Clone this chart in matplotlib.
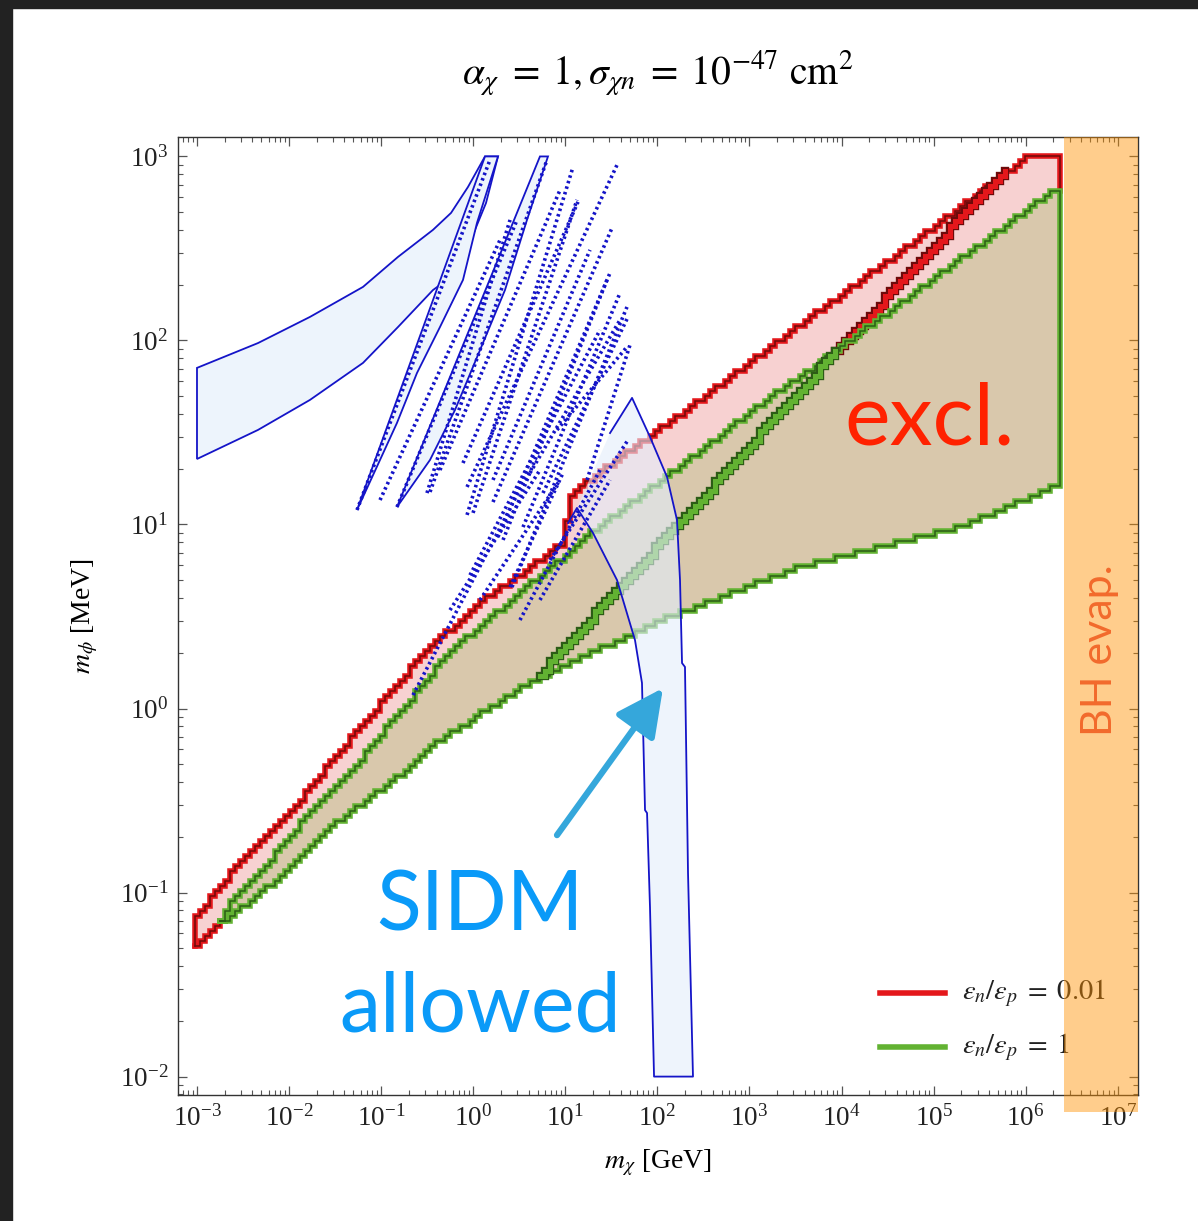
import numpy as np
import matplotlib.pyplot as plt
from matplotlib.patches import Polygon, Rectangle
from matplotlib.ticker import FixedLocator, NullFormatter
from matplotlib.patheffects import AbstractPathEffect
from matplotlib.path import Path
from matplotlib.transforms import IdentityTransform

plt.rcParams['font.family'] = ['Liberation Serif', 'DejaVu Serif']
plt.rcParams['mathtext.fontset'] = 'stix'

# all values are log10(m_chi / GeV), log10(m_phi / MeV)

# excluded region, eps_n/eps_p = 0.01 (outer boundary, upper side)
red_x = [-3.0, -3.0, -2.739, -2.337, -1.979, -1.545, -1.230, -0.893, -0.513, -0.252,
         0.106, 0.476, 0.834, 1.019, 1.030, 2.756, 6.047, 6.373, 6.373]
red_y = [-1.285, -1.133, -0.959, -0.731, -0.568, -0.291, -0.106, 0.090, 0.302, 0.427,
         0.590, 0.715, 0.845, 0.916, 1.149, 1.785, 3.0, 3.0, 2.807]
# lower-left closing piece of the red boundary
red_low_x = [-3.0, -2.739]
red_low_y = [-1.285, -1.160]

# excluded region, eps_n/eps_p = 1
green_up_x = [-2.739, -2.663, -2.261, -1.762, -1.175, -0.676, -0.252, 1.236, 2.105, 3.006,
              3.929, 6.319, 6.373]
green_up_y = [-1.160, -1.079, -0.861, -0.568, -0.253, 0.046, 0.307, 0.932, 1.258, 1.606,
              1.938, 2.818, 2.807]
green_low_x = [6.373, 5.320, 3.549, 2.148, 0.736, 0.052, -0.382, -0.849, -1.469, -2.120, -2.696]
green_low_y = [1.215, 0.986, 0.769, 0.497, 0.171, -0.046, -0.188, -0.389, -0.622, -0.932, -1.160]

# thin unexcluded cracks inside the regions
crack_green_x = [0.736, 3.951]
crack_green_y = [0.182, 1.938]
crack_red_x = [3.951, 5.776]
crack_red_y = [1.938, 2.916]

# SIDM allowed: big band at low mass
band_up_x = [-3.0, -2.337, -1.773, -1.197, -0.817, -0.437, -0.241, -0.057, 0.128]
band_up_y = [1.851, 1.986, 2.128, 2.291, 2.454, 2.601, 2.693, 2.834, 3.0]
band_low_x = [-3.0, -2.337, -1.773, -1.197, -0.817, -0.437, -0.241, -0.057, 0.139, 0.269]
band_low_y = [1.356, 1.514, 1.677, 1.878, 2.073, 2.274, 2.345, 2.508, 2.747, 3.0]

# thin lens-shaped islands
lensA_x = [-1.262, 0.128, 0.269, 0.041, -0.111, -0.361, -0.611, -0.828, -1.012]
lensA_y = [1.079, 3.0, 3.0, 2.639, 2.329, 2.073, 1.823, 1.552, 1.351]
lensB_x = [-0.828, 0.725, 0.812, 0.584, 0.345, 0.074, -0.198, -0.469]
lensB_y = [1.095, 3.0, 3.0, 2.655, 2.274, 1.948, 1.622, 1.351]

# main allowed channel reaching down to 10 keV
chan_left_x = [1.030, 1.127, 1.301, 1.562, 1.757, 1.833, 1.866, 1.888, 1.920, 1.964]
chan_left_y = [1.008, 1.090, 0.954, 0.698, 0.372, 0.139, -0.552, -0.568, -1.079, -2.0]
chan_right_x = [2.387, 2.333, 2.300, 2.268, 2.246, 2.213, 2.105, 1.920, 1.725, 1.486]
chan_right_y = [-2.0, -0.894, 0.226, 0.247, 0.698, 1.025, 1.258, 1.476, 1.688, 1.497]

# resonance lines (start x, start y, end x, end y)
res_x0 = [-1.262, -0.828, -0.469, -0.067, -0.111, -0.067, 0.215, 0.269, 0.421, 0.541, 0.758,
          -0.654, -0.035, 0.074, 0.834, 1.236, -0.502, -0.002, 0.215, 0.324, 0.617, 0.910,
          0.400, -0.252, 0.508, 0.725, -1.012, -0.361]
res_y0 = [1.079, 1.095, 1.177, 1.052, 1.334, 1.204, 1.122, 0.932, 0.660, 0.986, 1.171,
          0.073, 0.725, 0.590, 0.807, 1.242, 1.171, 1.063, 1.242, 0.916, 1.280, 1.514,
          0.660, 0.535, 0.481, 0.590, 1.133, 1.296]
res_x1 = [0.182, 0.476, 0.801, 1.084, 1.138, 1.562, 1.507, 1.486, 1.670, 1.594, 1.681,
          0.617, 1.377, 0.943, 1.681, 1.703, 0.400, 1.127, 1.268, 1.453, 1.594, 1.670,
          0.975, 0.725, 1.377, 1.486, 0.291, 0.943]
res_y1 = [2.981, 2.655, 2.981, 2.943, 2.753, 2.954, 2.611, 2.367, 2.182, 2.258, 2.128,
          1.296, 2.057, 1.242, 1.459, 1.976, 2.655, 2.764, 2.492, 2.329, 2.111, 1.965,
          1.280, 1.296, 1.296, 1.242, 2.546, 2.818]

bh_evap_min = 6.417  # log10 GeV

x_decades = list(range(-3, 8))
y_decades = list(range(-2, 4))

legend_labels = [r'$\varepsilon_n/\varepsilon_p\;=\;0.01$', r'$\varepsilon_n/\varepsilon_p\;=\;1$']

RED, RED_D = '#E4171B', '#6E0A0A'
GREEN, GREEN_D = '#62B232', '#2C5C16'
BLUE = '#1414C8'
PINK = '#F7D1D1'
TAN = '#D9C8AC'
LBLUE = '#EDF4FC'


class Stairs(AbstractPathEffect):
    """Draw a path snapped to a pixel grid, like a contour from a sampled grid."""

    def __init__(self, step=5.0):
        super().__init__()
        self.step = step

    def draw_path(self, renderer, gc, tpath, affine, rgbFace=None):
        v = affine.transform(tpath.vertices)
        s = self.step
        pts = []
        for a, b in zip(v[:-1], v[1:]):
            n = max(int(np.hypot(*(b - a)) / (s / 3)), 1)
            for t in np.arange(n) / n:
                pts.append(a + (b - a) * t)
        pts.append(v[-1])
        g = np.round(np.array(pts) / s) * s
        out = [g[0]]
        for q in g[1:]:
            last = out[-1]
            if q[0] != last[0] and q[1] != last[1]:
                out.append(np.array([q[0], last[1]]))
            if q[0] != last[0] or q[1] != last[1]:
                out.append(q)
        renderer.draw_path(gc, Path(np.array(out)), IdentityTransform(), rgbFace)


def p(a):
    return 10 ** np.asarray(a, dtype=float)


fig = plt.figure(figsize=(11.98, 12.21), dpi=100)
ax = fig.add_axes([0.1486, 0.1032, 0.8013, 0.7842])
ax.set_xscale('log')
ax.set_yscale('log')
ax.set_xlim(10 ** -3.206, 10 ** 7.22)
ax.set_ylim(10 ** -2.1, 10 ** 3.103)

# fills
red_poly = np.column_stack([p(red_x + green_up_x[::-1] + red_low_x[::-1]),
                            p(red_y + green_up_y[::-1] + red_low_y[::-1])])
ax.add_patch(Polygon(red_poly, closed=True, fc=PINK, ec='none', zorder=1))
green_poly = np.column_stack([p(green_up_x + green_low_x), p(green_up_y + green_low_y)])
ax.add_patch(Polygon(green_poly, closed=True, fc=TAN, ec='none', zorder=2))


def edge(xs, ys, c, cd, z, crack=False):
    if crack:
        widths = [(cd, 6.0), (c, 3.6)]
    else:
        widths = [(c, 4.0), (cd, 1.1)]
    for k, (col, lw) in enumerate(widths):
        ax.plot(p(xs), p(ys), color=col, lw=lw, solid_joinstyle='miter',
                path_effects=[Stairs(5.0)], zorder=z + 0.1 * k)


edge(red_x, red_y, RED, RED_D, 3)
edge(red_low_x, red_low_y, RED, RED_D, 3)
edge(crack_red_x, crack_red_y, RED, RED_D, 3, crack=True)
edge(green_up_x + green_low_x + [green_up_x[0]], green_up_y + green_low_y + [green_up_y[0]],
     GREEN, GREEN_D, 3.5)
edge(crack_green_x, crack_green_y, GREEN, GREEN_D, 3.5, crack=True)

# SIDM allowed regions
band = np.column_stack([p(band_up_x + band_low_x[::-1]), p(band_up_y + band_low_y[::-1])])
ax.add_patch(Polygon(band, closed=True, fc=LBLUE, ec=BLUE, lw=1.3, zorder=4))
for lx, ly in [(lensA_x, lensA_y), (lensB_x, lensB_y)]:
    ax.add_patch(Polygon(np.column_stack([p(lx), p(ly)]), closed=True, fc=LBLUE,
                         ec=BLUE, lw=1.3, zorder=4))
chan = np.column_stack([p(chan_left_x[1:] + chan_right_x), p(chan_left_y[1:] + chan_right_y)])
ax.add_patch(Polygon(chan, closed=True, fc='#E3EEFB', alpha=0.6, ec='none', zorder=4))
ax.plot(p(chan_left_x + chan_right_x), p(chan_left_y + chan_right_y), color=BLUE, lw=1.3,
        zorder=5)

for x0, y0, x1, y1 in zip(res_x0, res_y0, res_x1, res_y1):
    ax.plot(p([x0, x1]), p([y0, y1]), color=BLUE, lw=2.6, ls=(0, (0.7, 0.9)), zorder=5)

# annotations
ax.text(0.783, 0.679, 'excl.', transform=ax.transAxes, ha='center', va='baseline',
        fontsize=62, family='Lato', color='#FF2200', zorder=6)
ax.text(0.315, 0.172, 'SIDM', transform=ax.transAxes, ha='center', va='baseline',
        fontsize=59.5, family='Lato', color='#0A9AF8', zorder=6)
ax.text(0.315, 0.066, 'allowed', transform=ax.transAxes, ha='center', va='baseline',
        fontsize=59.5, family='Lato', color='#0A9AF8', zorder=6)
ax.annotate('', xy=(10 ** 2.061, 10 ** 0.111), xytext=(10 ** 0.910, 10 ** -0.688),
            arrowprops=dict(arrowstyle='-|>,head_length=1.2,head_width=0.6', color='#35A7DB',
                            lw=4.5, shrinkA=0, shrinkB=0, mutation_scale=24), zorder=6)

# legend
for i, (lab, c) in enumerate(zip(legend_labels, [RED, GREEN])):
    yy = 0.1065 - i * 0.0565
    ax.plot([0.731, 0.799], [yy, yy], transform=ax.transAxes, color=c, lw=4, zorder=6)
    ax.text(0.8167, yy, lab, transform=ax.transAxes, va='center', ha='left',
            fontsize=20.5, color='#222222', zorder=6)

# black-hole evaporation band
ax.add_patch(Rectangle((10 ** bh_evap_min, 10 ** -2.19), 10 ** 7.225 - 10 ** bh_evap_min,
                       10 ** 3.103 - 10 ** -2.19, fc=(1.0, 0.57, 0.0), alpha=0.45, ec='none',
                       zorder=10, clip_on=False))
ax.text(0.960, 0.465, 'BH evap.', transform=ax.transAxes, rotation=90, ha='center',
        va='center', fontsize=31, family='Lato', color='#F26A2C', zorder=11)

# axes styling
ax.xaxis.set_major_locator(FixedLocator([10.0 ** k for k in x_decades]))
ax.yaxis.set_major_locator(FixedLocator([10.0 ** k for k in y_decades]))
ax.xaxis.set_minor_locator(FixedLocator([m * 10.0 ** k for k in range(-4, 8)
                                         for m in range(2, 10)]))
ax.yaxis.set_minor_locator(FixedLocator([m * 10.0 ** k for k in range(-3, 4)
                                         for m in range(2, 10)]))
ax.xaxis.set_minor_formatter(NullFormatter())
ax.yaxis.set_minor_formatter(NullFormatter())
ax.tick_params(which='both', direction='in', top=True, right=True, color='#555555',
               labelsize=19.5, labelcolor='#222222')
ax.tick_params(which='major', length=6.5, width=0.9, pad=7)
ax.tick_params(which='minor', length=3.8, width=0.8)
for s in ax.spines.values():
    s.set_color('#333333')
    s.set_linewidth(1.0)

ax.set_xlabel(r'$m_\chi$ [GeV]', fontsize=20)
ax.set_ylabel(r'$m_\phi$ [MeV]', fontsize=20)
ax.xaxis.set_label_coords(0.5, -0.055)
ax.yaxis.set_label_coords(-0.081, 0.5)

fig.text(658 / 1198, 1 - 73 / 1221,
         r'$\alpha_\chi\;=\;1, \sigma_{\chi n}\;=\;10^{-47}\ \mathrm{cm}^2$',
         ha='center', va='center', fontsize=28.5)

# screenshot border
fig.patches.append(Rectangle((0, 1 - 8 / 1221), 1, 8 / 1221, transform=fig.transFigure,
                             color='#222222', zorder=0))
fig.patches.append(Rectangle((0, 0), 12 / 1198, 1, transform=fig.transFigure,
                             color='#222222', zorder=0))

fig.savefig('out.png', dpi=100)
